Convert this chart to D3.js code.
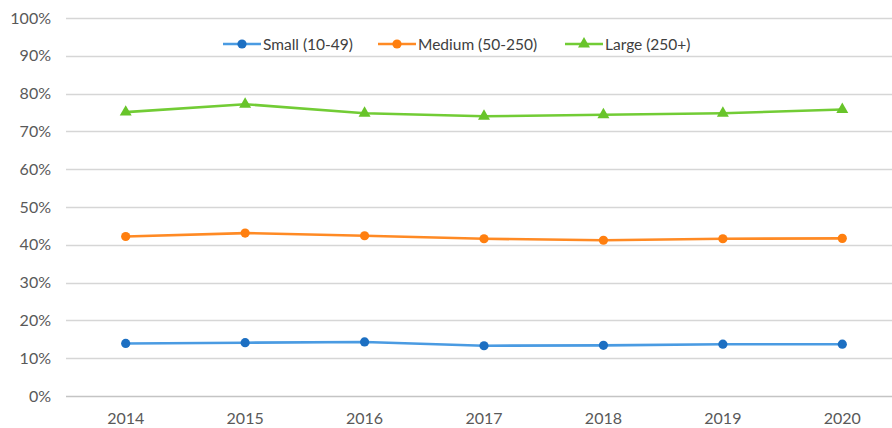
<!DOCTYPE html>
<html>
<head>
<meta charset="utf-8">
<script src="https://cdn.jsdelivr.net/npm/d3@7"></script>
<style>
  html, body { margin: 0; padding: 0; background: #fff; }
  svg { display: block; font-family: Lato, "Open Sans", sans-serif; }
</style>
</head>
<body>
<svg id="chart" width="892" height="428"></svg>
<script>
// Share of enterprises by size class, 2014–2020
const years = ["2014", "2015", "2016", "2017", "2018", "2019", "2020"];
const yTicks = [0, 0.1, 0.2, 0.3, 0.4, 0.5, 0.6, 0.7, 0.8, 0.9, 1.0];
const seriesNames = ["Small (10-49)", "Medium (50-250)", "Large (250+)"];
const small  = [0.139, 0.141, 0.143, 0.133, 0.134, 0.137, 0.137];
const medium = [0.422, 0.431, 0.424, 0.416, 0.412, 0.416, 0.417];
const large  = [0.751, 0.772, 0.748, 0.740, 0.744, 0.748, 0.758];

const series = [
  { name: seriesNames[0], values: small,  line: "#4a9be2", mark: "#1c6fc2", shape: "circle" },
  { name: seriesNames[1], values: medium, line: "#ff8a24", mark: "#ff7f0f", shape: "circle" },
  { name: seriesNames[2], values: large,  line: "#72cc35", mark: "#68c42a", shape: "triangle" }
];

const svg = d3.select("#chart");

const x = d3.scaleBand().domain(years).range([66, 902]).padding(0);
const y = d3.scaleLinear().domain([0, 1]).range([396, 18]);
const cx = d => x(d) + x.bandwidth() / 2;

// horizontal gridlines
svg.append("g")
  .selectAll("line")
  .data(yTicks.filter(t => t > 0))
  .join("line")
  .attr("x1", 66).attr("x2", 892)
  .attr("y1", d => Math.round(y(d)) + 0.5)
  .attr("y2", d => Math.round(y(d)) + 0.5)
  .attr("stroke", "#d6d6d6")
  .attr("stroke-width", 1.3);

// category axis baseline
svg.append("line")
  .attr("x1", 66).attr("x2", 892)
  .attr("y1", Math.round(y(0)) + 0.5).attr("y2", Math.round(y(0)) + 0.5)
  .attr("stroke", "#c4c4c4")
  .attr("stroke-width", 1.5);

// y-axis labels
const yAxis = d3.axisLeft(y).tickValues(yTicks).tickFormat(d3.format(".0%")).tickSize(0).tickPadding(0);
svg.append("g")
  .attr("transform", "translate(51,0)")
  .call(yAxis)
  .call(g => g.select(".domain").remove())
  .call(g => g.selectAll("text")
    .attr("fill", "#595959")
    .style("font-size", "16px")
    .style("font-family", "Lato, sans-serif"));

// x-axis labels
const xAxis = d3.axisBottom(x).tickSize(0).tickPadding(0);
svg.append("g")
  .attr("transform", "translate(0,413)")
  .call(xAxis)
  .call(g => g.select(".domain").remove())
  .call(g => g.selectAll("text")
    .attr("dy", "0.71em")
    .attr("y", 0)
    .attr("fill", "#595959")
    .style("font-size", "16px")
    .style("font-family", "Lato, sans-serif"));

const line = d3.line().x((d, i) => cx(years[i])).y(d => y(d));
const tri = d3.symbol().type(d3.symbolTriangle).size(62);

function drawMarker(sel, s) {
  if (s.shape === "circle") {
    sel.append("circle").attr("r", 4.6).attr("fill", s.mark);
  } else {
    sel.append("path").attr("d", tri()).attr("fill", s.mark);
  }
}

series.forEach(s => {
  const g = svg.append("g");
  g.append("path")
    .datum(s.values)
    .attr("d", line)
    .attr("fill", "none")
    .attr("stroke", s.line)
    .attr("stroke-width", 2.6)
    .attr("stroke-linejoin", "round");
  g.selectAll("g.pt")
    .data(s.values)
    .join("g")
    .attr("class", "pt")
    .attr("transform", (d, i) => `translate(${cx(years[i])},${y(d)})`)
    .each(function () { drawMarker(d3.select(this), s); });
});

// legend
const legendX = [223, 378, 565];
const legendY = 44;
series.forEach((s, i) => {
  const g = svg.append("g").attr("transform", `translate(${legendX[i]},${legendY})`);
  g.append("line")
    .attr("x1", 0).attr("x2", 38)
    .attr("stroke", s.line).attr("stroke-width", 2.6);
  const m = g.append("g").attr("transform", "translate(19,0)");
  drawMarker(m, s);
  g.append("text")
    .attr("x", 40)
    .attr("dy", "0.36em")
    .attr("fill", "#404040")
    .style("font-size", "15.5px")
    .text(s.name);
});
</script>
</body>
</html>
